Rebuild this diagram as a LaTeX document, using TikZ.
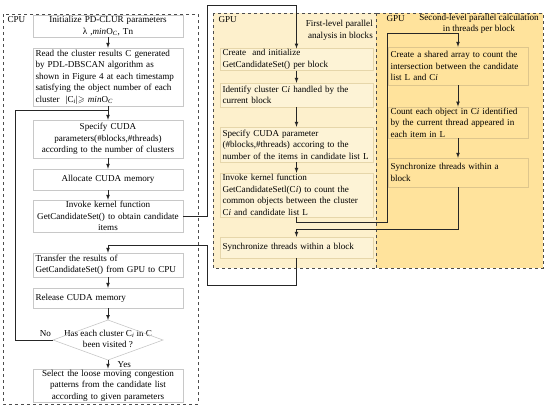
\documentclass[tikz,border=0pt]{standalone}
\usepackage{amssymb}
\usepackage{fontspec}
\setmainfont{Liberation Serif}
\usepackage{tikz}
\usetikzlibrary{calc}

\definecolor{cpuedge}{RGB}{200,200,200}
\definecolor{gpublock}{RGB}{253,240,204}
\definecolor{blockfill}{RGB}{253,243,214}
\definecolor{blockedge}{RGB}{230,214,170}
\definecolor{gputhread}{RGB}{255,227,156}
\definecolor{threadedge}{RGB}{222,198,140}

\begin{document}
\begin{tikzpicture}
    [x=1pt, y=-1pt, >=latex,
    every node/.style={font=\fontsize{9.1}{11.5}\selectfont},
    frame/.style={draw=black!70, dashed, line width=0.6pt},
    cpubox/.style={draw=cpuedge, fill=white, minimum width=150pt, text width=145pt, inner xsep=2.5pt, inner ysep=1pt},
    blockbox/.style={draw=blockedge, fill=blockfill, minimum width=153pt, text width=148pt, inner xsep=2.5pt, inner ysep=1pt, align=left},
    threadbox/.style={draw=threadedge, fill=gputhread, minimum width=140pt, text width=135pt, inner xsep=2.5pt, inner ysep=1pt, align=left},
    flow/.style={draw=black!85, line width=0.7pt}]
    \useasboundingbox (0,0) rectangle (550,410);
    \draw[frame] (3,14) rectangle (198,404);
    \draw[frame, fill=gpublock] (213,13) rectangle (376,268);
    \draw[frame, fill=gputhread] (376,13) rectangle (543,268);
    \node[anchor=west] (cpulabel) at (4,20) {CPU};
    \node[anchor=west] (gpulabel1) at (215,20) {GPU};
    \node[anchor=north east, align=right, inner sep=0pt] (level1) at (373,20) {First-level parallel\\analysis in blocks};
    \node[anchor=west] (gpulabel2) at (383,19) {GPU};
    \node[align=center, inner sep=0pt] (level2) at (479,24) {Second-level parallel calculation\\in threads per block};

    \node[cpubox, align=center, minimum height=22pt] (init) at (108,26) {Initialize PD-CLUR parameters\\λ ,\textit{min}O\textsubscript{\textit{C}}, Tn};
    \node[cpubox, align=left, minimum height=58pt] (read) at (108,77) {Read the cluster results C generated\\by PDL-DBSCAN algorithm as\\shown in Figure 4 at each timestamp\\satisfying the object number of each\\cluster \ |C\textsubscript{\textit{i}}|$\geqslant$ \textit{min}O\textsubscript{\textit{C}}};
    \node[cpubox, align=center, minimum height=38pt] (param) at (108,139) {Specify CUDA\\parameters(\#blocks,\#threads)\\according to the number of clusters};
    \node[cpubox, align=center, minimum height=21pt] (alloc) at (108,179.5) {Allocate CUDA memory};
    \node[cpubox, align=center, minimum height=32pt] (invoke) at (108,216) {Invoke kernel function\\GetCandidateSet() to obtain candidate\\items};
    \node[cpubox, align=left, minimum height=24pt] (transfer) at (108,265) {Transfer the results of\\GetCandidateSet() from GPU to CPU};
    \node[cpubox, align=left, minimum height=20pt] (release) at (108,298) {Release CUDA memory};
    \node[align=center] (visited) at (108,339) {Has each cluster C\textsubscript{\textit{i}} in C\\been visited ?};
    \node[cpubox, align=center, minimum height=29pt] (select) at (108,385.5) {Select the loose moving congestion\\patterns from the candidate list\\according to given parameters};

    \coordinate (visitN) at (108,320);
    \coordinate (visitE) at (163,340);
    \coordinate (visitS) at (108,360);
    \coordinate (visitW) at (53,340);
    \draw[cpuedge, line width=0.6pt] (visitN) -- (visitE) -- (visitS) -- (visitW) -- cycle;

    \node[blockbox, minimum height=21pt] (create) at (296.5,59.5) {Create \ and initialize\\GetCandidateSet() per block};
    \node[blockbox, minimum height=24pt] (identify) at (296.5,95) {Identify cluster C\textit{i} handled by the\\current block};
    \node[blockbox, minimum height=35pt] (blockparam) at (296.5,144.5) {Specify CUDA parameter\\(\#blocks,\#threads) accoring to the\\number of the items in candidate list L};
    \node[blockbox, minimum height=44pt] (count) at (296.5,195) {Invoke kernel function\\GetCandidateSetl(C\textit{i}) to count the\\common objects between the cluster\\C\textit{i} and candidate list L};
    \node[blockbox, minimum height=21pt] (blocksync) at (296.5,247.5) {Synchronize threads within a block};

    \node[threadbox, minimum height=38pt] (shared) at (458,66) {Create a shared array to count the\\intersection between the candidate\\list L and C\textit{i}};
    \node[threadbox, minimum height=31pt] (tally) at (458,122.5) {Count each object in C\textit{i} identified\\by the current thread appeared in\\each item in L};
    \node[threadbox, minimum height=29pt] (threadsync) at (458,172.5) {Synchronize threads within a\\block};

    \coordinate (merge) at (108,110);
    \coordinate (loopL) at (15,110);
    \coordinate (toGPU) at (207,5);
    \coordinate (down) at (387,222);
    \coordinate (up) at (387,33);
    \coordinate (back) at (207,245);

    \draw[flow, ->] (init) -- (read);
    \draw[flow, ->] (read) -- (param);
    \draw[flow, ->] (param) -- (alloc);
    \draw[flow, ->] (alloc) -- (invoke);
    \draw[flow, ->] (transfer) -- (release);
    \draw[flow, ->] (release) -- (visitN);
    \draw[flow, ->] (visitS) -- node[right=6pt]{Yes} (select);
    \draw[flow] (visitW) -- node[above, pos=0.2]{No} (visitW -| loopL) -- (loopL) -- (merge);

    \draw[flow, ->] (invoke.east) -| (toGPU) -| (create.north);
    \draw[flow, ->] (create) -- (identify);
    \draw[flow, ->] (identify) -- (blockparam);
    \draw[flow, ->] (blockparam) -- (count);
    \draw[flow, ->] (count.south) |- (down) -- (up) -| (shared.north);
    \draw[flow, ->] (shared) -- (tally);
    \draw[flow, ->] (tally) -- (threadsync);
    \draw[flow, ->] (threadsync.south) -- ++(0,42) -| (blocksync.north);
    \draw[flow, ->] (blocksync.south) -- ++(0,27) -| (back) -| (transfer.north);
\end{tikzpicture}
\end{document}
